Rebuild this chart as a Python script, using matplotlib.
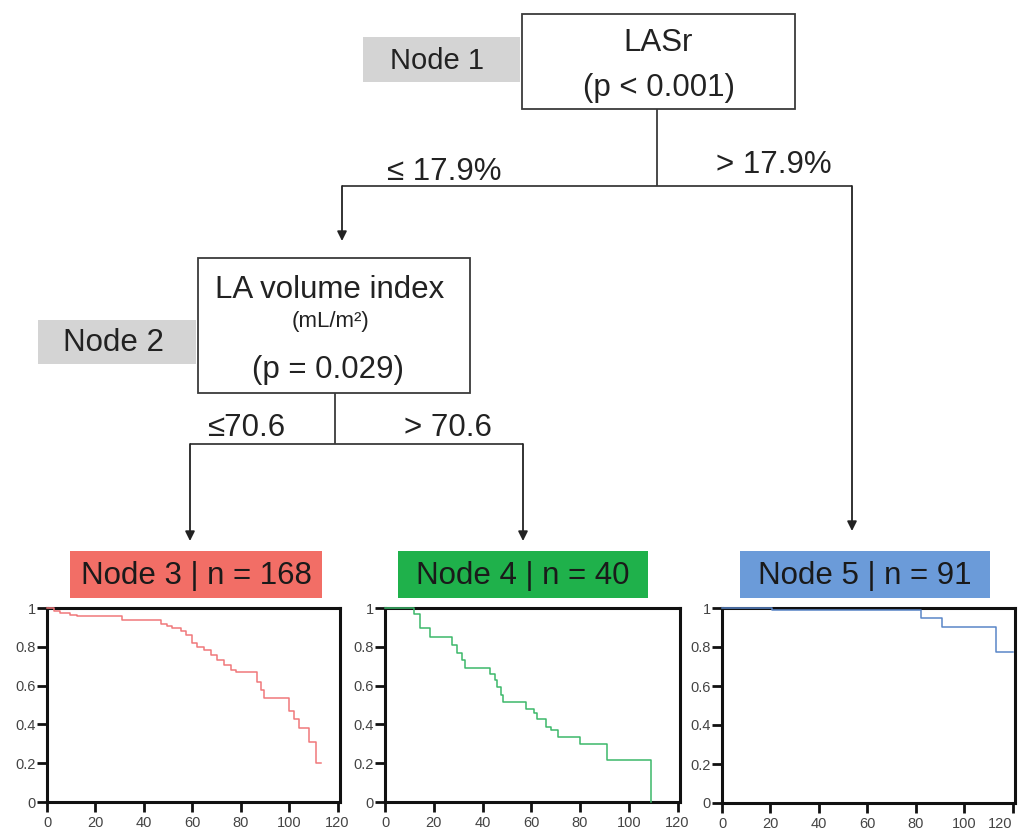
import matplotlib
matplotlib.use("Agg")
import matplotlib.pyplot as plt
from matplotlib.patches import Rectangle

plt.rcParams['font.family'] = ['Liberation Sans', 'DejaVu Sans']

# ---------------- data ----------------
node3_t = [0, 2.8, 5.5, 9.7, 12.4, 31, 46.9, 49.7, 51.7, 55.2, 57.2, 60, 62, 64.8, 67.6,
           70.3, 73.1, 75.9, 77.9, 80.7, 86.9, 88.3, 89.7, 91, 100, 102, 104, 108.3, 111, 113]
node3_s = [1.0, 0.985, 0.975, 0.965, 0.957, 0.94, 0.92, 0.905, 0.897, 0.88, 0.862, 0.82,
           0.80, 0.785, 0.76, 0.733, 0.707, 0.68, 0.67, 0.67, 0.617, 0.578, 0.535, 0.535,
           0.47, 0.43, 0.38, 0.31, 0.2, 0.2]

node4_t = [0, 11, 12, 14.4, 18.5, 27.4, 29.5, 31.5, 33, 43, 45, 46, 47.5, 48.5, 58, 61,
           62.4, 66, 68, 71, 80, 91, 109, 109]
node4_s = [1.0, 1.0, 0.97, 0.897, 0.853, 0.81, 0.767, 0.733, 0.69, 0.66, 0.63, 0.595,
           0.55, 0.517, 0.48, 0.457, 0.428, 0.388, 0.37, 0.336, 0.30, 0.216, 0.0, 0.0]

node5_t = [0, 20.5, 82, 91, 113, 120]
node5_s = [1.0, 0.99, 0.95, 0.905, 0.776, 0.776]

xticks = [0, 20, 40, 60, 80, 100, 120]
yticks = [0, 0.2, 0.4, 0.6, 0.8, 1.0]
ytick_labels = ["0", "0.2", "0.4", "0.6", "0.8", "1"]

node_labels = ["Node 3 | n = 168", "Node 4 | n = 40", "Node 5 | n = 91"]
node_colors = ["#f26e66", "#1fb14b", "#6b9bd9"]
curve_colors = ["#f0787a", "#3cb86a", "#5a86c8"]

# ---------------- figure ----------------
W, H = 1021, 831
fig = plt.figure(figsize=(W / 100, H / 100), dpi=100)
ax = fig.add_axes([0, 0, 1, 1])
ax.set_xlim(0, W)
ax.set_ylim(H, 0)
ax.axis('off')

LC = "#3a3a3a"
TC = "#222222"
LW = 1.3
FS = 22.5

def box(x0, y0, x1, y1, fc="white", ec=LC, lw=LW):
    ax.add_patch(Rectangle((x0, y0), x1 - x0, y1 - y0, facecolor=fc, edgecolor=ec, lw=lw, zorder=2))

def line(xs, ys):
    ax.plot(xs, ys, color=LC, lw=LW, solid_capstyle='butt', zorder=1)

def arrow(x, y0, y1):
    ax.annotate("", xy=(x, y1), xytext=(x, y0),
                arrowprops=dict(arrowstyle="-|>", color="#222222", lw=LW,
                                mutation_scale=14, shrinkA=0, shrinkB=0), zorder=1)

# Node 1
box(363, 37, 520, 82, fc="#d4d4d4", ec="none", lw=0)
ax.text(437, 61, "Node 1", fontsize=21, ha='center', va='center', color=TC)
box(522, 14, 795, 109)
ax.text(658, 43, "LASr", fontsize=FS, ha='center', va='center', color=TC)
ax.text(659, 88, "(p < 0.001)", fontsize=FS, ha='center', va='center', color=TC)

line([657, 657], [109, 186])
line([342, 852], [186, 186])
arrow(342, 186, 241)
arrow(852, 186, 531)
ax.text(444, 172, "≤ 17.9%", fontsize=FS, ha='center', va='center', color=TC)
ax.text(774, 165, "> 17.9%", fontsize=FS, ha='center', va='center', color=TC)

# Node 2
box(38, 320, 196, 364, fc="#d4d4d4", ec="none", lw=0)
ax.text(113, 343, "Node 2", fontsize=FS, ha='center', va='center', color=TC)
box(198, 258, 470, 393)
ax.text(330, 290, "LA volume index", fontsize=FS, ha='center', va='center', color=TC)
ax.text(330, 322, "(mL/m²)", fontsize=16, ha='center', va='center', color=TC)
ax.text(328, 370, "(p = 0.029)", fontsize=FS, ha='center', va='center', color=TC)

line([335, 335], [393, 444])
line([190, 523], [444, 444])
arrow(190, 444, 541)
arrow(523, 444, 541)
ax.text(246, 428, "≤70.6", fontsize=FS, ha='center', va='center', color=TC)
ax.text(448, 428, "> 70.6", fontsize=FS, ha='center', va='center', color=TC)

# Node label boxes
label_boxes = [(70, 322), (398, 648), (740, 990)]
for (x0, x1), lab, col in zip(label_boxes, node_labels, node_colors):
    box(x0, 551, x1, 598, fc=col, ec="none", lw=0)
    ax.text((x0 + x1) / 2, 576, lab, fontsize=FS, ha='center', va='center', color="#1a1a1a")

# KM plots
km_pos = [(47, 340, 608, 802), (385, 680, 608, 802), (722, 1015, 608, 803)]
km_data = [(node3_t, node3_s), (node4_t, node4_s), (node5_t, node5_s)]
kaxes = []
for (x0, x1, y0, y1), (t, s), col in zip(km_pos, km_data, curve_colors):
    kax = fig.add_axes([x0 / W, (H - y1) / H, (x1 - x0) / W, (y1 - y0) / H])
    kax.step(t, s, where='post', color=col, lw=1.1, zorder=3, clip_on=False)
    kax.set_xlim(0, 121)
    kax.set_ylim(0, 1)
    kax.set_xticks(xticks)
    kax.set_yticks(yticks)
    kax.set_yticklabels(ytick_labels)
    for sp in kax.spines.values():
        sp.set_linewidth(2.2)
        sp.set_color("#111111")
    kax.tick_params(direction='out', length=7, width=2, labelsize=10.5,
                    colors="#111111", labelcolor="#444444", pad=1)
    kax.tick_params(axis='x', pad=3)
    kaxes.append(kax)

# keep the last x tick label of the rightmost plot inside the figure
kaxes[-1].get_xticklabels()[-1].set_horizontalalignment('right')
kaxes[-1].get_xticklabels()[-1].set_x(120.5)

fig.savefig("out.png", dpi=100)
